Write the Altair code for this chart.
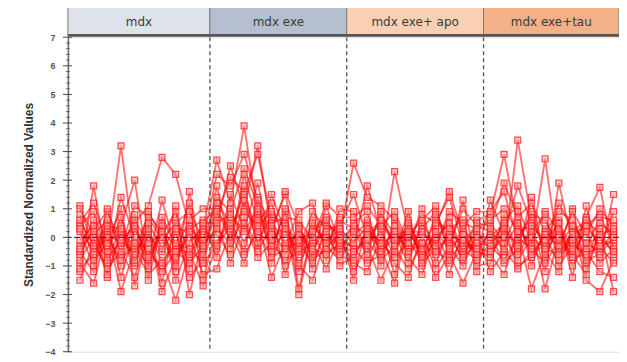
import altair as alt
import pandas as pd

groups = ["mdx", "mdx exe", "mdx exe+ apo", "mdx exe+tau"]
group_fill = ["#dde2eb", "#b5bfcf", "#f9d0b3", "#f3b189"]
group_start = [-0.88, 9.5, 19.5, 29.5]
group_end = [9.5, 19.5, 29.5, 39.4]
boundaries = [9.5, 19.5, 29.5]
y_ticks = [-4, -3, -2, -1, 0, 1, 2, 3, 4, 5, 6, 7]

s1 = [0.5, 1.2, -0.3, 3.2, -0.5, 0.8, 0.2, -0.8, 0.4, -0.2,
      1.4, 0.9, 2.4, 1.1, 0.3, 1.5, -0.6, 0.4, -0.2, 0.6,
      0.3, -0.4, 0.8, 0.1, -0.9, 0.5, -0.3, 0.7, -0.5, 0.2,
      -0.4, 0.6, 1.1, -0.2, 0.9, 0.2, -0.7, 0.4, 0.8, -0.3]
s2 = [-0.6, 0.3, 0.9, -0.2, 0.5, 1.1, 2.8, 2.2, 0.4, -0.4,
      0.8, 2.1, 1.6, 2.9, 0.6, -0.3, 0.2, -1.1, 0.5, 0.1,
      2.6, 1.4, 1.1, 0.6, -0.6, 0.3, 0.9, -0.2, 1.0, 0.4,
      0.2, -0.5, 3.4, 0.6, -0.4, 1.2, 0.3, -0.9, 0.5, 0.1]
s3 = [1.1, -0.4, 0.2, -1.0, 0.6, -0.2, 0.1, 0.9, -0.7, 0.3,
      2.7, 1.2, 3.9, 0.8, -0.4, 0.9, -1.8, 0.3, 0.7, -0.5,
      0.5, 0.9, -0.7, 2.3, 0.2, -0.5, 0.6, 0.2, -0.8, 0.6,
      0.8, 2.9, 0.4, -0.3, 2.75, -0.6, 0.2, 0.6, -0.4, 0.9]
s4 = [-1.2, 1.8, -0.9, 0.4, 2.0, -1.1, 0.7, -0.3, 1.2, -1.5,
      0.4, 2.5, 1.0, 3.2, 0.2, 1.6, 0.4, -0.7, 1.1, -0.2,
      -0.3, 1.8, 0.2, -0.6, 0.9, -1.0, 0.4, 1.6, 0.1, -0.7,
      1.3, 0.1, 1.8, 0.5, -1.2, 1.9, -0.2, 0.7, 1.75, -0.5]
s5 = [-0.9, -1.6, 0.3, -1.9, -0.4, -1.3, -0.8, -2.2, -0.5, -1.7,
      -0.2, 0.6, -0.5, 1.4, -0.9, 0.5, -2.0, 0.2, -0.8, 0.3,
      -1.2, -0.3, -1.5, -0.4, -1.1, -0.2, -1.4, -0.6, -1.6, -0.5,
      -0.6, -1.3, 0.2, -1.8, -0.5, -1.2, 0.4, -1.5, -1.9, -0.8]
s6 = [0.2, -1.0, 1.0, -0.6, 0.8, -1.5, 0.5, -1.2, 1.6, -0.9,
      1.8, -0.4, 2.2, 0.5, 1.2, -0.3, 0.9, 1.2, -0.6, 1.0,
      0.9, -0.8, 0.3, -1.3, 0.6, -0.6, 0.8, -0.4, 1.3, -1.0,
      -0.9, 0.8, -0.5, 1.4, -0.8, 0.6, -1.4, 1.1, -0.7, 1.5]
s7 = [-0.3, 0.6, -1.4, 0.2, -1.0, 0.4, -1.6, 0.6, -1.1, 0.5,
      -0.7, 1.5, 0.3, 1.9, -0.5, 1.0, -1.2, 0.6, -0.3, -0.8,
      0.1, 0.5, -1.0, 0.7, -0.3, 1.0, -0.9, 0.3, 0.6, -1.2,
      0.5, -0.2, 0.9, -1.0, 0.3, -0.4, 1.0, -1.1, 0.2, -0.6]
s8 = [0.8, -0.8, -0.2, 1.0, -1.7, 0.1, -0.5, 1.1, -2.0, 0.0,
      0.1, -0.6, 1.3, -0.2, 0.8, -1.3, 0.1, -0.5, 0.4, -1.0,
      -0.6, 0.2, -0.4, -1.6, 0.4, -0.8, -0.1, -1.3, 0.3, -0.3,
      0.1, -0.9, -0.4, 0.3, -1.8, 0.0, -0.6, -1.3, 0.3, -1.9]
s9 = [-1.5, -0.2, -1.1, -0.5, -1.4, 0.2, -1.9, -0.7, 0.1, -1.3,
      -1.1, 0.2, -0.9, 0.6, -1.4, -0.2, -1.0, -1.5, 0.0, -0.6,
      -0.9, -1.2, 0.0, -0.9, -1.4, 0.1, -1.1, -0.3, -1.0, 0.1,
      -1.2, -0.5, -1.0, -0.7, 0.1, -1.0, -0.3, -0.5, -1.2, -1.4]
s10 = [0.4, 0.9, -0.7, 1.4, 0.0, -0.8, 1.3, -0.4, 0.6, 1.0,
       1.0, -0.1, 1.8, -0.4, 1.5, 0.2, -0.4, 0.9, 0.3, 0.4,
       1.5, 0.0, 0.5, -0.2, 0.1, 0.6, 1.1, -0.7, 0.4, 0.9,
       0.9, 1.6, -0.1, 0.8, 0.6, -0.3, 0.9, 0.1, 1.0, 0.4]
s11 = [-0.5, -1.2, 0.5, -1.4, 0.3, -0.6, -1.0, 0.2, -1.4, -0.8,
       0.6, -0.9, 0.5, -0.7, -0.2, -0.8, -0.5, -0.2, -1.1, 0.0,
       -0.4, -0.9, -0.6, 0.4, -0.7, -1.3, 0.2, -0.9, -0.4, -0.8,
       -0.2, 0.4, -1.1, -0.5, -0.3, 0.5, -1.0, -0.2, -0.5, 0.2]
s12 = [1.0, 0.1, 0.6, -0.3, 1.1, 0.7, -0.1, 0.5, 0.9, -0.1,
       2.2, 1.8, 2.9, 1.3, 0.5, 0.7, 0.6, -0.1, 1.2, 0.7,
       0.7, 1.1, 0.4, 0.9, -0.2, 0.8, 0.5, 1.4, -0.3, 0.5,
       0.4, 1.9, 0.7, 1.2, 0.2, 0.9, 0.6, -0.4, 0.7, 0.6]
s13 = [-0.1, 0.4, -0.5, 0.7, -0.9, 0.9, 0.0, -1.0, 0.3, 0.6,
       0.9, 0.3, 1.5, 0.1, -0.1, 0.4, -0.9, 0.0, 0.1, -0.4,
       0.2, -0.6, 0.9, -0.5, 0.5, -0.4, 0.0, 0.5, -0.6, 0.0,
       0.0, 0.5, -0.6, 0.2, 0.8, -0.8, 0.1, 0.4, -0.3, -0.1]
s14 = [-0.8, 0.0, -1.3, 0.2, -0.3, -1.0, 0.4, -1.5, -0.2, 0.4,
       -0.4, 1.0, -0.2, 0.9, 0.1, -1.0, 0.4, -0.8, -0.4, 0.2,
       -1.5, 0.6, -0.3, 0.2, -0.5, -0.2, -0.6, 0.1, -0.2, -0.5,
       -0.7, 0.3, -0.3, 0.9, -0.6, 0.3, -0.5, 0.2, -0.9, -0.4]
s15 = [0.3, -0.5, 0.1, -0.2, 0.4, -0.7, 0.2, -0.3, -0.6, 0.5,
       0.5, 0.8, 0.2, 1.0, -0.3, 0.1, -0.4, 0.5, -0.2, 0.3,
       -0.2, 0.4, -0.5, 0.0, 0.3, -0.7, 0.2, -0.4, 0.1, -0.6,
       0.3, -0.4, 0.5, -0.6, 0.1, -0.3, 0.4, -0.2, 0.0, -0.5]
s16 = [-0.4, 0.2, -0.8, -0.1, -0.6, 0.3, -0.9, -0.2, -0.4, -0.9,
       -0.3, 0.4, -0.6, 0.2, -0.7, -0.4, -0.2, -0.9, 0.2, -0.3,
       -0.5, -0.1, -0.8, -0.3, 0.0, -0.9, -0.4, 0.0, -0.7, -0.2,
       -0.3, -0.8, 0.0, -0.4, -0.9, -0.1, -0.7, -0.6, -0.3, -0.9]
s17 = [-1.1, -0.6, 0.0, -0.8, -0.2, -0.4, -1.2, -0.5, -0.9, -0.3,
       0.3, -0.2, 0.7, -0.5, 0.4, -0.6, 0.3, -0.4, -0.6, -0.2,
       -0.8, 0.3, -0.2, -0.7, -0.2, 0.3, -0.5, -0.8, -0.1, -0.4,
       -0.5, 0.0, -0.8, 0.0, -0.4, -0.6, -0.1, -0.8, -0.6, 0.0]
s18 = [0.6, -0.3, 0.4, 0.3, -0.8, 0.5, -0.4, 0.3, 0.2, -0.6,
       1.2, 0.5, 0.9, 0.4, 0.9, 0.3, -0.1, 0.2, 0.6, -0.1,
       0.4, 0.1, 0.6, -0.1, 0.2, 0.2, -0.3, 0.9, 0.5, 0.3,
       0.6, 1.0, 0.2, 0.4, -0.1, 0.5, -0.4, 0.6, 0.1, 0.3]

series = [s1, s2, s3, s4, s5, s6, s7, s8, s9, s10, s11, s12, s13, s14, s15, s16, s17, s18]

rows = []
for k, s in enumerate(series):
    for i, v in enumerate(s):
        rows.append({"series": f"S{k+1}", "idx": i, "value": v})
df = pd.DataFrame(rows)

xs = alt.Scale(domain=[group_start[0], group_end[-1]], nice=False, zero=False)
ys = alt.Scale(domain=[-4, 7], nice=False, zero=False)
y_axis = alt.Axis(values=y_ticks, title="Standardized Normalized Values",
                  titleFontSize=12, titleFontWeight="bold", titleColor="#333",
                  titleFont="Liberation Sans", titlePadding=9,
                  labelFontSize=9, labelFontWeight="bold", labelColor="#555",
                  labelFont="Liberation Sans", labelPadding=13,
                  ticks=False, grid=False, domainColor="#666", domainWidth=1.5)

hdr = pd.DataFrame({"g": groups, "x0": group_start, "x1": group_end, "fill": group_fill})
hdr["xm"] = (hdr["x0"] + hdr["x1"]) / 2

header_rect = alt.Chart(hdr).mark_rect(stroke="#7a7a7a", strokeWidth=1).encode(
    x=alt.X("x0:Q", scale=xs, axis=None),
    x2="x1:Q",
    y=alt.value(-30),
    y2=alt.value(-1),
    fill=alt.Fill("fill:N", scale=None),
)
header_text = alt.Chart(hdr).mark_text(fontSize=12, color="#3a3a3a", font="DejaVu Sans").encode(
    x=alt.X("xm:Q", scale=xs, axis=None),
    y=alt.value(-15),
    text="g:N",
)
header_base = alt.Chart(hdr).mark_rule(color="#555", strokeWidth=2.5).encode(
    x=alt.X("x0:Q", scale=xs, axis=None), x2="x1:Q", y=alt.value(-2))

minor = pd.DataFrame({"t": [v / 5 for v in range(-20, 36) if v % 5 != 0]})
major = pd.DataFrame({"t": y_ticks})
minor_ticks = alt.Chart(minor).mark_rule(color="#555", strokeWidth=0.8).encode(
    y=alt.Y("t:Q", scale=ys, axis=y_axis), x=alt.value(-2), x2=alt.value(2))
major_ticks = alt.Chart(major).mark_rule(color="#444", strokeWidth=1).encode(
    y=alt.Y("t:Q", scale=ys, axis=y_axis), x=alt.value(-5), x2=alt.value(4))

bdf = pd.DataFrame({"b": boundaries})
vrules = alt.Chart(bdf).mark_rule(color="#555", strokeDash=[4, 3], strokeWidth=1.3).encode(
    x=alt.X("b:Q", scale=xs, axis=None))
zero = alt.Chart(pd.DataFrame({"z": [0]})).mark_rule(color="#222", strokeDash=[6, 3], strokeWidth=1).encode(
    y=alt.Y("z:Q", scale=ys, axis=y_axis))

lines = alt.Chart(df).mark_line(color="#ff0000", strokeWidth=1.9, opacity=0.55).encode(
    x=alt.X("idx:Q", scale=xs, axis=None),
    y=alt.Y("value:Q", scale=ys, axis=y_axis),
    detail="series:N",
)
pts = alt.Chart(df).mark_point(shape="square", size=36, filled=True, fill="#ff9d9d",
                               fillOpacity=0.55, stroke="#ff1a1a", strokeOpacity=0.75,
                               strokeWidth=1.2).encode(
    x=alt.X("idx:Q", scale=xs, axis=None),
    y=alt.Y("value:Q", scale=ys, axis=y_axis),
)

chart = alt.layer(lines, pts, zero, vrules, minor_ticks, major_ticks,
                  header_rect, header_base, header_text).properties(
    width=552, height=315,
    autosize=alt.AutoSizeParams(type="none"),
    padding={"left": 60, "top": 29, "right": 0, "bottom": 4},
).configure_view(stroke="#888", strokeWidth=1.5).configure(background="white")

chart.save("out.html", embed_options={"renderer": "svg", "actions": False})
